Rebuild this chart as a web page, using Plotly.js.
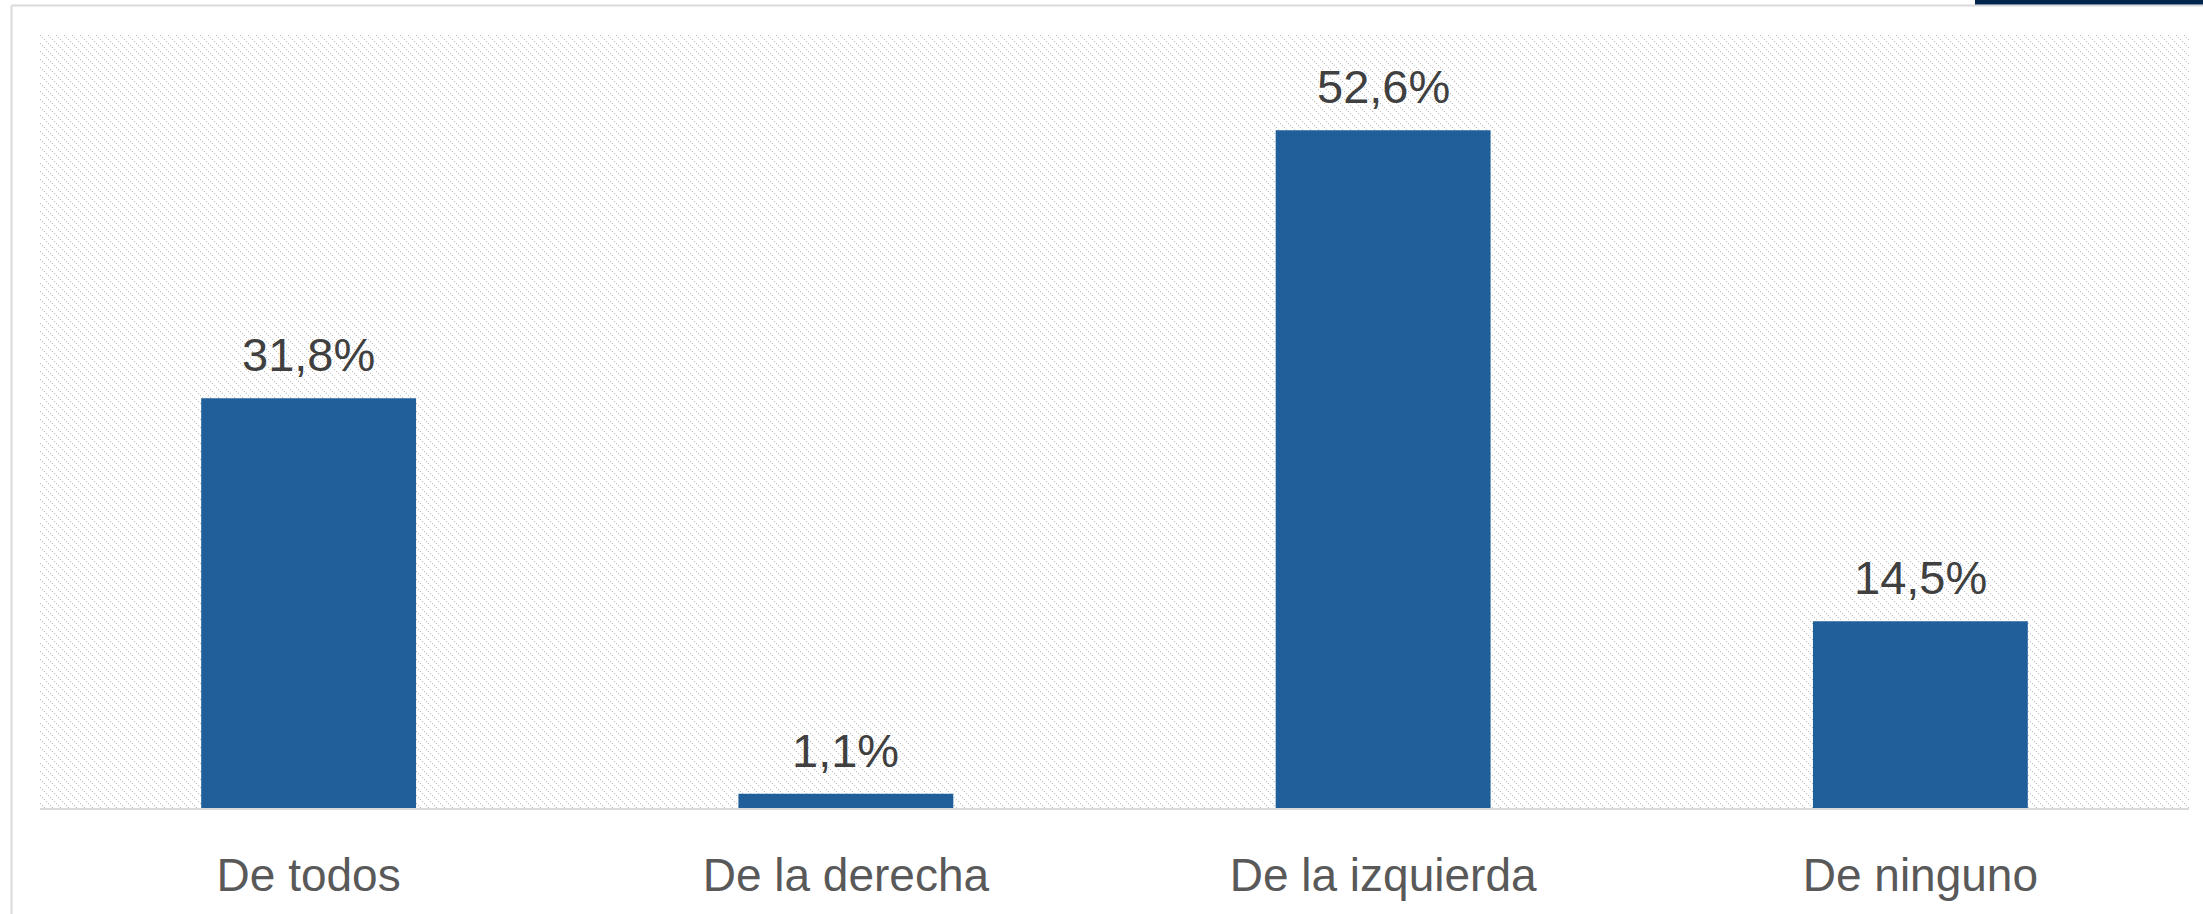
<!DOCTYPE html>
<html>
<head>
<meta charset="utf-8">
<script src="https://cdn.plot.ly/plotly-3.0.1.min.js"></script>
<style>
  html, body { margin: 0; padding: 0; background: #ffffff; }
  #chart { width: 2203px; height: 914px; }
</style>
</head>
<body>
<div id="chart"></div>
<script>
// ---- data ----
const categories = ["De todos", "De la derecha", "De la izquierda", "De ninguno"];
const values = [31.8, 1.1, 52.6, 14.5];
const valueLabels = ["31,8%", "1,1%", "52,6%", "14,5%"];

// ---- style ----
const FONT = "Liberation Sans, Arial, sans-serif";
const BAR_COLOR = "#215F9A";
const GRID_GRAY = "#d9d9d9";
const HATCH = "#bdbdbd";

const W = 2203, H = 914;
const M = { l: 40, r: 14, t: 35, b: 106 };
const PW = W - M.l - M.r, PH = H - M.t - M.b;
const px = x => (x - M.l) / PW;          // pixel -> paper x
const py = y => (H - M.b - y) / PH;      // pixel -> paper y

// hatched plot background as an svg pattern
const svg =
  '<svg xmlns="http://www.w3.org/2000/svg" width="' + PW + '" height="' + PH + '" shape-rendering="crispEdges">' +
  '<defs><pattern id="p" width="8" height="8" patternUnits="userSpaceOnUse">' +
  '<rect x="0" y="0" width="1" height="1" fill="' + HATCH + '"/>' +
  '<rect x="2" y="2" width="1" height="1" fill="' + HATCH + '"/>' +
  '<rect x="4" y="4" width="1" height="1" fill="' + HATCH + '"/>' +
  '<rect x="6" y="6" width="1" height="1" fill="' + HATCH + '"/>' +
  '</pattern></defs>' +
  '<rect width="100%" height="100%" fill="url(#p)"/></svg>';
const bgSrc = 'data:image/svg+xml;charset=utf-8,' + encodeURIComponent(svg);

const trace = {
  type: "bar",
  x: categories,
  y: values,
  marker: { color: BAR_COLOR },
  hoverinfo: "skip"
};

const annotations = categories.map((c, i) => ({
  x: c, y: values[i], xref: "x", yref: "y",
  text: valueLabels[i],
  showarrow: false,
  yanchor: "bottom",
  yshift: 15,
  font: { family: FONT, size: 47, color: "#404040" }
}));

const layout = {
  width: W, height: H,
  margin: M,
  paper_bgcolor: "#ffffff",
  plot_bgcolor: "rgba(0,0,0,0)",
  bargap: 0.6,
  showlegend: false,
  xaxis: {
    type: "category",
    showgrid: false,
    zeroline: false,
    showline: true,
    linecolor: GRID_GRAY,
    linewidth: 2,
    ticks: "",
    ticklabelstandoff: 26,
    tickfont: { family: FONT, size: 46, color: "#595959" }
  },
  yaxis: {
    range: [0, 60],
    showgrid: false,
    zeroline: false,
    showline: false,
    showticklabels: false,
    ticks: ""
  },
  images: [{
    source: bgSrc,
    xref: "paper", yref: "paper",
    x: 0, y: 1, sizex: 1, sizey: 1,
    xanchor: "left", yanchor: "top",
    sizing: "stretch",
    layer: "below"
  }],
  annotations: annotations,
  shapes: [
    { type: "line", xref: "paper", yref: "paper",
      x0: px(11.5), x1: px(11.5), y0: py(5.5), y1: py(914),
      line: { color: GRID_GRAY, width: 2 } },
    { type: "line", xref: "paper", yref: "paper",
      x0: px(11.5), x1: px(2203), y0: py(5.5), y1: py(5.5),
      line: { color: GRID_GRAY, width: 2 } },
    { type: "rect", xref: "paper", yref: "paper",
      x0: px(1975), x1: px(2203), y0: py(0), y1: py(4.5),
      fillcolor: "#022550", line: { width: 0 } }
  ]
};

Plotly.newPlot("chart", [trace], layout, { displayModeBar: false, staticPlot: true });
</script>
</body>
</html>
